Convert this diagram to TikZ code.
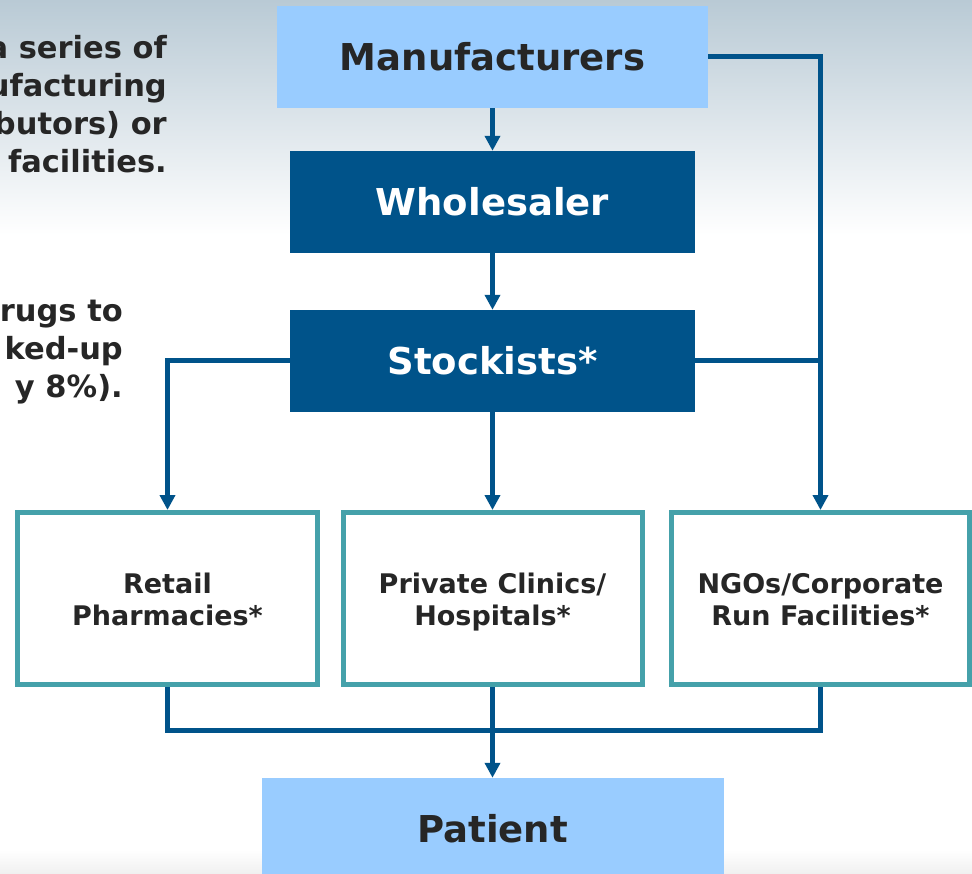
\documentclass[tikz,border=0pt]{standalone}
\usepackage{fontspec}
\setmainfont{DejaVu Sans}
\usepackage{tikz}
\usetikzlibrary{arrows.meta}

\definecolor{paleblue}{HTML}{99CCFF}
\definecolor{navy}{HTML}{00538A}
\definecolor{boxteal}{HTML}{45A1AA}
\definecolor{ink}{HTML}{262626}
\definecolor{skytop}{HTML}{B9CAD5}

% invisible struts that push the two-line labels a little lower
\newcommand{\liftop}{\rule{0pt}{28pt}}
\newcommand{\liftbot}{\rule[-7pt]{0pt}{1pt}}

\tikzset{
  topbox/.style={fill=paleblue, minimum width=431pt, minimum height=102pt,
    font=\fontsize{37}{44}\selectfont\bfseries, text=ink},
  darkbox/.style={fill=navy, minimum width=405pt, minimum height=102pt,
    font=\fontsize{37}{44}\selectfont\bfseries, text=white},
  outlet/.style={draw=boxteal, line width=5pt, fill=white, minimum height=172pt,
    align=center, font=\fontsize{27}{32}\selectfont\bfseries, text=ink},
  flow/.style={draw=navy, line width=5pt, -{Triangle[width=15pt,length=15pt]}},
  link/.style={draw=navy, line width=5pt},
  note/.style={align=right, font=\fontsize{30.5}{38.3}\selectfont\bfseries,
    text=ink, inner sep=0pt, anchor=base east}
}

\begin{document}
\begin{tikzpicture}[x=1pt,y=-1pt]
       % background
       \fill[white](0,0)rectangle(972,874);
       \shade[top color=skytop, bottom color=white](0,0)rectangle(972,235);
       \shade[top color=white, bottom color=gray!12](0,850)rectangle(972,874);
       \useasboundingbox(0,0)rectangle(972,874);
       % cut-off notes on the left (anchored at the last line)
       \node[note](NoteTop)at(167,173){a series of\\ufacturing\\butors) or\\facilities.};
       \node[note](NoteBottom)at(123,398){rugs to\\ked-up\\y 8\%).};
       % chain
       \node[topbox](Manufacturers)at(492.5,57){Manufacturers};
       \node[darkbox](Wholesaler)at(492.5,202){Wholesaler};
       \node[darkbox](Stockists)at(492.5,361){Stockists*};
       \node[outlet, minimum width=300pt](Retail)at(167.5,598.5){\liftop Retail\\Pharmacies*\liftbot};
       \node[outlet, minimum width=299pt](Clinics)at(492.5,598.5){\liftop Private Clinics/\\Hospitals*\liftbot};
       \node[outlet, minimum width=298pt](NGOs)at(820.5,598.5){\liftop NGOs/Corporate\\Run Facilities*\liftbot};
       \node[topbox, minimum width=462pt](Patient)at(492.5,829){Patient};
       \coordinate(Tee)at(Stockists.east -| NGOs.north);
       \coordinate(Bus)at(0,730.5);
       \draw[flow](Manufacturers)--(Wholesaler);
       \draw[flow](Wholesaler)--(Stockists);
       \draw[flow](Stockists)--(Clinics);
       \draw[flow](Stockists.west)-|(Retail.north);
       \draw[flow](Manufacturers.east)-|(NGOs.north);
       \draw[link](Stockists.east)--(Tee);
       \draw[link](Retail.south)|-(Bus -| NGOs.south)--(NGOs.south);
       \draw[flow](Clinics)--(Patient);
      \end{tikzpicture}
\end{document}
